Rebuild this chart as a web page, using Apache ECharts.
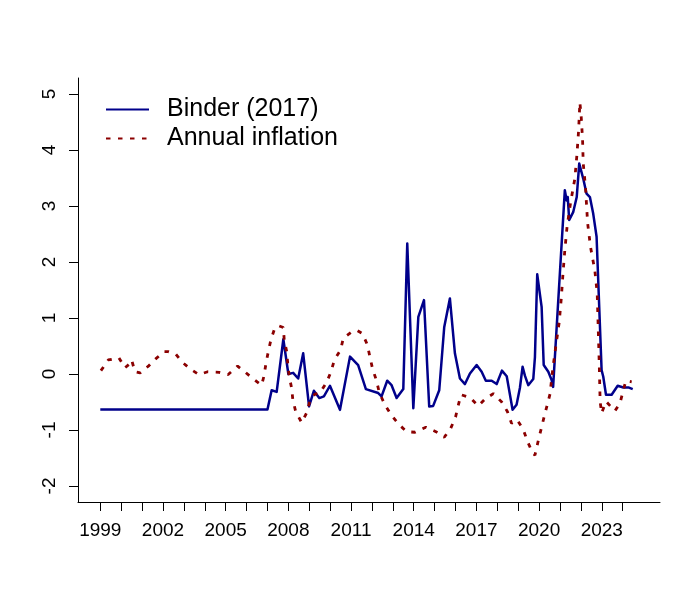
<!DOCTYPE html>
<html>
<head>
<meta charset="utf-8">
<script src="https://cdn.jsdelivr.net/npm/echarts@6/dist/echarts.min.js"></script>
<style>
html,body{margin:0;padding:0;background:#fff;}
#chart{width:700px;height:600px;}
</style>
</head>
<body>
<div id="chart"></div>
<script>
// Binder (2017) series: vertex times (decimal years) and values
const binderTime = [1999.0, 2007.0, 2007.20, 2007.44, 2007.76, 2008.0, 2008.23, 2008.47, 2008.71, 2008.99,
  2009.22, 2009.48, 2009.70, 2009.99, 2010.47, 2010.95, 2011.34, 2011.71, 2012.30, 2012.46,
  2012.73, 2012.94, 2013.18, 2013.50, 2013.69, 2013.77, 2013.98, 2014.22, 2014.49, 2014.74,
  2014.93, 2015.22, 2015.46, 2015.73, 2015.97, 2016.21, 2016.45, 2016.69, 2017.01, 2017.25,
  2017.45, 2017.73, 2017.97, 2018.22, 2018.45, 2018.73, 2018.92, 2019.08, 2019.21, 2019.32,
  2019.48, 2019.72, 2019.80, 2019.91, 2020.0, 2020.12, 2020.22, 2020.44, 2020.60, 2020.67,
  2020.76, 2021.23, 2021.32, 2021.37, 2021.44, 2021.63, 2021.80, 2021.92, 2021.99, 2022.11,
  2022.27, 2022.43, 2022.59, 2022.75, 2022.99, 2023.07, 2023.20, 2023.47, 2023.76, 2024.03,
  2024.27, 2024.48];
const binderValue = [-0.636, -0.636, -0.29, -0.32, 0.62, 0.0, 0.02, -0.08, 0.37, -0.58,
  -0.30, -0.43, -0.40, -0.21, -0.64, 0.31, 0.16, -0.27, -0.34, -0.40,
  -0.12, -0.20, -0.43, -0.27, 2.33, 2.33, -0.61, 1.02, 1.32, -0.58,
  -0.57, -0.29, 0.84, 1.35, 0.37, -0.08, -0.18, 0.01, 0.16, 0.04,
  -0.12, -0.12, -0.18, 0.06, -0.04, -0.64, -0.55, -0.25, 0.13, -0.03,
  -0.20, -0.09, 0.30, 1.78, 1.76, 1.20, 0.16, 0.04, -0.11, -0.23,
  -0.20, 3.28, 3.10, 3.16, 2.75, 2.89, 3.16, 3.76, 3.73, 3.49,
  3.22, 3.16, 2.86, 2.45, 0.07, -0.05, -0.37, -0.37, -0.21, -0.24,
  -0.24, -0.27];

// Annual inflation series
const inflTime = [1999.03, 1999.38, 1999.89, 2000.18, 2000.37, 2000.50, 2000.66, 2000.91, 2001.33, 2001.65,
  2002.05, 2002.24, 2002.62, 2002.92, 2003.34, 2003.72, 2004.14, 2004.69, 2005.12, 2005.57,
  2005.91, 2006.29, 2006.72, 2006.83, 2006.93, 2007.04, 2007.17, 2007.36, 2007.55, 2007.76,
  2007.80, 2007.92, 2007.97, 2008.04, 2008.16, 2008.21, 2008.35, 2008.64, 2008.88, 2009.03,
  2009.27, 2009.51, 2009.83, 2010.04, 2010.20, 2010.50, 2010.63, 2011.03, 2011.28, 2011.55,
  2011.78, 2011.90, 2012.03, 2012.22, 2012.35, 2012.62, 2012.94, 2013.29, 2013.66, 2014.06,
  2014.58, 2015.06, 2015.46, 2015.77, 2016.00, 2016.13, 2016.26, 2016.69, 2017.09, 2017.41,
  2017.81, 2018.21, 2018.48, 2018.68, 2018.95, 2019.24, 2019.45, 2019.69, 2019.80, 2019.96,
  2020.23, 2020.52, 2020.65, 2020.80, 2020.96, 2021.06, 2021.14, 2021.23, 2021.34, 2021.51,
  2021.71, 2021.81, 2021.89, 2021.95, 2022.01, 2022.08, 2022.11, 2022.22, 2022.32, 2022.46,
  2022.67, 2022.78, 2022.83, 2022.88, 2022.92, 2022.99, 2023.20, 2023.63, 2023.87, 2024.15,
  2024.43];
const inflValue = [0.06, 0.25, 0.29, 0.11, 0.17, 0.25, 0.04, 0.02, 0.15, 0.27,
  0.40, 0.40, 0.35, 0.21, 0.08, -0.01, 0.04, 0.03, -0.01, 0.14,
  0.04, -0.08, -0.20, -0.04, 0.19, 0.40, 0.62, 0.83, 0.86, 0.83,
  0.62, 0.40, 0.19, -0.04, -0.26, -0.45, -0.67, -0.87, -0.69, -0.48,
  -0.36, -0.34, -0.15, 0.04, 0.25, 0.43, 0.64, 0.75, 0.78, 0.72,
  0.52, 0.31, 0.09, -0.12, -0.33, -0.55, -0.74, -0.90, -1.03, -1.04,
  -0.95, -1.03, -1.13, -0.97, -0.77, -0.56, -0.37, -0.42, -0.57, -0.45,
  -0.35, -0.50, -0.67, -0.88, -0.82, -0.99, -1.21, -1.41, -1.45, -1.19,
  -0.78, -0.36, 0.08, 0.50, 0.92, 1.35, 1.78, 2.21, 2.64, 3.07,
  3.49, 3.92, 4.35, 4.85, 4.62, 4.18, 3.77, 3.33, 2.70, 2.27,
  1.84, 1.44, 0.80, 0.15, -0.49, -0.70, -0.49, -0.66, -0.52, -0.12,
  -0.14];

const xTickValues = [1999,2000,2001,2002,2003,2004,2005,2006,2007,2008,2009,2010,2011,2012,
  2013,2014,2015,2016,2017,2018,2019,2020,2021,2022,2023,2024];
const xLabelValues = [1999, 2002, 2005, 2008, 2011, 2014, 2017, 2020, 2023];
const yTickValues = [-2, -1, 0, 1, 2, 3, 4, 5];

const seriesNames = ['Binder (2017)', 'Annual inflation'];

const zip = (a, b) => a.map((t, i) => [t, b[i]]);
const FONT = 'Liberation Sans, Arial, sans-serif';

const chart = echarts.init(document.getElementById('chart'), null, {renderer: 'canvas'});
chart.setOption({
  animation: false,
  backgroundColor: '#ffffff',
  grid: {left: 78, right: 40, top: 78, bottom: 98, containLabel: false},
  legend: {
    orient: 'vertical',
    left: 100,
    top: 92,
    itemWidth: 43,
    itemHeight: 14,
    itemGap: 4,
    data: seriesNames,
    itemStyle: {opacity: 0},
    textStyle: {fontFamily: FONT, fontSize: 25, color: '#000', lineHeight: 25, padding: [0, 0, 0, 13]},
    selectedMode: false
  },
  xAxis: {
    type: 'value',
    min: 1997.933,
    max: 2025.785,
    axisLine: {show: true, onZero: false, lineStyle: {color: '#000', width: 1}},
    axisTick: {show: true, length: 9, customValues: xTickValues, lineStyle: {color: '#000', width: 1}},
    axisLabel: {customValues: xLabelValues, formatter: v => String(v), fontFamily: FONT, fontSize: 19, color: '#000', margin: 19},
    splitLine: {show: false}
  },
  yAxis: {
    type: 'value',
    min: -2.286,
    max: 5.286,
    axisLine: {show: true, onZero: false, lineStyle: {color: '#000', width: 1}},
    axisTick: {show: true, length: 9, customValues: yTickValues, lineStyle: {color: '#000', width: 1}},
    axisLabel: {customValues: yTickValues, formatter: v => String(v), rotate: 90, fontFamily: FONT, fontSize: 19, color: '#000', margin: 19},
    splitLine: {show: false}
  },
  series: [
    {
      name: seriesNames[0],
      type: 'line',
      data: zip(binderTime, binderValue),
      symbol: 'none',
      showSymbol: false,
      color: '#00008B',
      lineStyle: {color: '#00008B', width: 2.5, join: 'round'}
    },
    {
      name: seriesNames[1],
      type: 'line',
      data: zip(inflTime, inflValue),
      symbol: 'none',
      showSymbol: false,
      color: '#8B0000',
      lineStyle: {color: '#8B0000', width: 2.8, type: [4.5, 7.5], cap: 'butt'}
    }
  ]
});
</script>
</body>
</html>
